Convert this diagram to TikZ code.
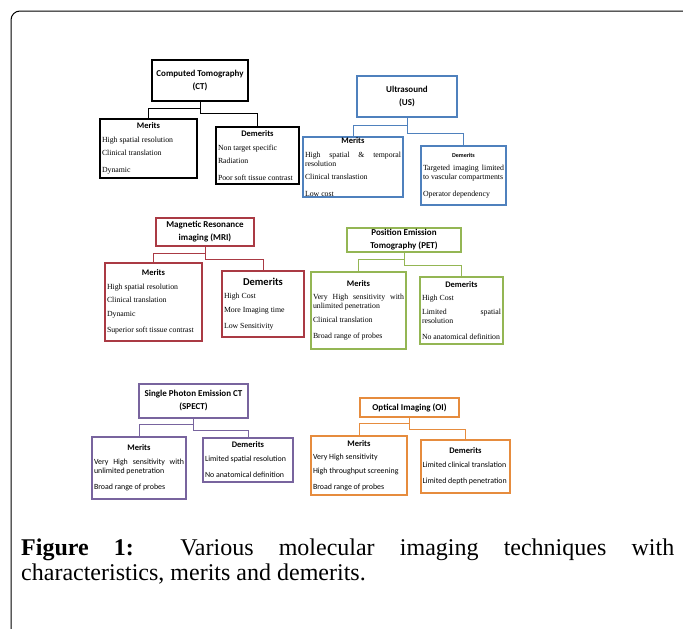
\documentclass[tikz,border=0pt]{standalone}
\usepackage{fontspec}
\setmainfont{Liberation Serif}
\newfontfamily\hdfont{Carlito}
\usetikzlibrary{positioning, shadows}

\definecolor{usblue}{RGB}{79,129,189}
\definecolor{mrired}{RGB}{170,58,68}
\definecolor{petgreen}{RGB}{148,182,84}
\definecolor{spectpurple}{RGB}{120,100,158}
\definecolor{oiorange}{RGB}{230,140,62}

\newcommand{\bodyrm}{\fontsize{7.8}{9}\selectfont\setlength{\parskip}{4.5pt}}
\newcommand{\bodysf}{\hdfont\fontsize{7.9}{9}\selectfont\setlength{\parskip}{4.5pt}}
\newcommand{\boxhead}[2][8.5]{{\centering\hdfont\bfseries\fontsize{#1}{#1}\selectfont #2\par}}

\begin{document}
\begin{tikzpicture}[x=1pt, y=-1pt,
    shade box/.style={fill=white, drop shadow={shadow xshift=1.3pt, shadow yshift=-1.3pt, fill=black!35, opacity=0.5}},
    ttl/.style={draw=#1, shade box, line width=1.1pt, align=center, inner sep=0pt,
      font=\hdfont\bfseries\fontsize{9}{13}\selectfont},
    lst/.style={draw=#1, shade box, line width=1.1pt, align=justify, inner xsep=2pt, inner ysep=0pt},
    link/.style={draw=#1, line width=0.7pt}]
  \useasboundingbox (0,0) rectangle (683,629);
  % ---------------- frame
  \draw[line width=1pt, rounded corners=9pt] (11,629) -- (11,11) -- (683,11);
  % ---------------- CT
  \node[ttl=black, line width=1.6pt, minimum width=96pt, minimum height=41pt] (ctt) at (200,80.5) {Computed Tomography\\(CT)};
  \node[lst=black, line width=1.6pt, minimum width=97pt, minimum height=59pt, text width=93pt] (ctm) at (148.5,148.5)
    {\boxhead{Merits}\bodyrm High spatial resolution\par Clinical translation\par Dynamic};
  \node[lst=black, line width=1.6pt, minimum width=83pt, minimum height=57pt, text width=79pt] (ctd) at (257.5,155.5)
    {\boxhead{Demerits}\bodyrm Non target specific\par Radiation\par Poor soft tissue contrast};
  \draw[link=black] (ctt.south) -- ++(0,7) -| (ctm.north);
  \draw[link=black] (ctt.south) -- ++(0,12) -| (ctd.north);
  % ---------------- US
  \node[ttl=usblue, minimum width=100pt, minimum height=41pt] (ust) at (407,96.5) {Ultrasound\\(US)};
  \node[lst=usblue, minimum width=100pt, minimum height=60pt, text width=96pt] (usm) at (353,167)
    {\boxhead{Merits}\bodyrm High spatial \& temporal\linebreak resolution\par Clinical translastion\par Low cost};
  \node[lst=usblue, minimum width=85pt, minimum height=59pt, text width=81pt] (usd) at (463.5,175.5)
    {\boxhead[6]{Demerits}\bodyrm Targeted imaging limited\linebreak to vascular compartments\par Operator dependency};
  \draw[link=usblue] (ust.south) -- ++(0,8) -| (usm.north);
  \draw[link=usblue] (ust.south) -- ++(0,16) -| (usd.north);
  % ---------------- MRI
  \node[ttl=mrired, minimum width=98pt, minimum height=28pt] (mrit) at (205,232) {Magnetic Resonance\\imaging (MRI)};
  \node[lst=mrired, minimum width=97pt, minimum height=78pt, text width=93pt] (mrim) at (153.5,302)
    {\boxhead{Merits}\bodyrm High spatial resolution\par Clinical translation\par Dynamic\par Superior soft tissue contrast};
  \node[lst=mrired, minimum width=82pt, minimum height=66pt, text width=78pt] (mrid) at (263,304)
    {\boxhead[10.5]{Demerits}\bodyrm High Cost\par More Imaging time\par Low Sensitivity};
  \draw[link=mrired] (mrit.south) -- ++(0,7) -| (mrim.north);
  \draw[link=mrired] (mrit.south) -- ++(0,13) -| (mrid.north);
  % ---------------- PET
  \node[ttl=petgreen, minimum width=114pt, minimum height=24pt] (pett) at (404,240) {Position Emission\\Tomography (PET)};
  \node[lst=petgreen, minimum width=95pt, minimum height=77pt, text width=91pt] (petm) at (358.5,310.5)
    {\boxhead{Merits}\bodyrm Very High sensitivity with\linebreak unlimited penetration\par Clinical translation\par Broad range of probes};
  \node[lst=petgreen, minimum width=83pt, minimum height=67pt, text width=79pt] (petd) at (461.5,310.5)
    {\boxhead{Demerits}\bodyrm High Cost\par Limited spatial\linebreak resolution\par No anatomical definition};
  \draw[link=petgreen] (pett.south) -- ++(0,7) -| (petm.north);
  \draw[link=petgreen] (pett.south) -- ++(0,13) -| (petd.north);
  % ---------------- SPECT
  \node[ttl=spectpurple, minimum width=109pt, minimum height=34pt] (spt) at (193.5,401) {Single Photon Emission CT\\(SPECT)};
  \node[lst=spectpurple, minimum width=94pt, minimum height=62pt, text width=90pt] (spm) at (139,468)
    {\boxhead{Merits}\bodysf Very High sensitivity with\linebreak unlimited penetration\par Broad range of probes};
  \node[lst=spectpurple, minimum width=90pt, minimum height=44pt, text width=86pt] (spd) at (248,460)
    {\boxhead{Demerits}\bodysf Limited spatial resolution\par No anatomical definition};
  \draw[link=spectpurple] (spt.south) -- ++(0,6) -| (spm.north);
  \draw[link=spectpurple] (spt.south) -- ++(0,12) -| (spd.north);
  % ---------------- OI
  \node[ttl=oiorange, minimum width=99pt, minimum height=19pt] (oit) at (409.5,407.5) {Optical Imaging (OI)};
  \node[lst=oiorange, minimum width=96pt, minimum height=59pt, text width=92pt] (oim) at (359,465.5)
    {\boxhead{Merits}\bodysf Very High sensitivity\par High throughput screening\par Broad range of probes};
  \node[lst=oiorange, minimum width=89pt, minimum height=53pt, text width=86pt, inner xsep=1.5pt] (oid) at (465.5,466.5)
    {\boxhead{Demerits}\bodysf Limited clinical translation\par Limited depth penetration};
  \draw[link=oiorange] (oit.south) -- ++(0,6) -| (oim.north);
  \draw[link=oiorange] (oit.south) -- ++(0,12) -| (oid.north);
  % ---------------- caption
  \node[anchor=north west, text width=653pt, align=justify, inner sep=0pt,
    font=\fontsize{24}{25}\selectfont] (cap) at (21,539)
    {\textbf{Figure 1:} Various molecular imaging techniques with\linebreak characteristics, merits and demerits.};
\end{tikzpicture}
\end{document}
